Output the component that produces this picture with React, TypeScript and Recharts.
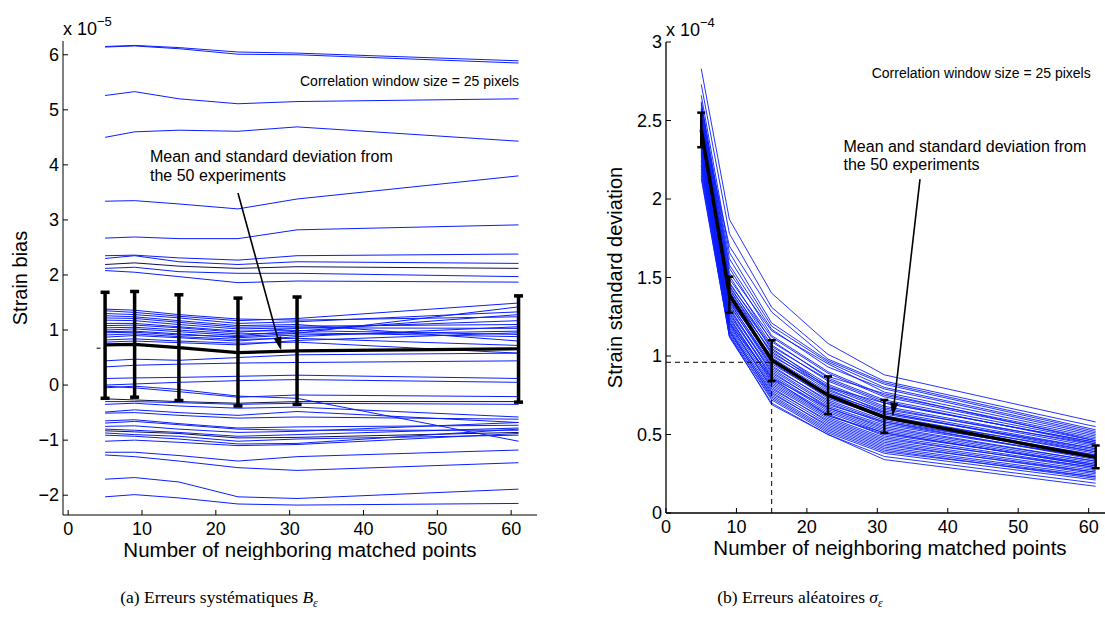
import React from 'react';
import { LineChart, Line, XAxis, YAxis, ErrorBar, ReferenceLine, ReferenceDot, Label } from 'recharts';

// ---------- data ----------
const xPoints = [5, 9, 15, 23, 31, 61];

const biasSeries: number[][] = [
  [6.15, 6.17, 6.13, 6.05, 6.03, 5.89],
  [6.14, 6.16, 6.11, 6.01, 6.0, 5.85],
  [5.26, 5.33, 5.2, 5.11, 5.15, 5.2],
  [4.5, 4.6, 4.63, 4.61, 4.69, 4.43],
  [3.34, 3.35, 3.29, 3.2, 3.38, 3.8],
  [2.67, 2.69, 2.66, 2.66, 2.82, 2.91],
  [2.35, 2.36, 2.31, 2.27, 2.35, 2.38],
  [2.3, 2.35, 2.24, 2.19, 2.24, 2.21],
  [2.19, 2.22, 2.16, 2.12, 2.15, 2.12],
  [2.12, 2.14, 2.06, 2.03, 2.03, 1.97],
  [2.08, 2.05, 1.97, 1.86, 1.89, 1.87],
  [1.38, 1.36, 1.28, 1.2, 1.18, 1.24],
  [1.35, 1.32, 1.25, 1.17, 1.21, 1.49],
  [1.3, 1.28, 1.22, 1.12, 1.15, 1.33],
  [1.26, 1.24, 1.17, 1.08, 1.1, 0.8],
  [1.22, 1.21, 1.14, 1.05, 1.07, 1.1],
  [1.18, 1.17, 1.1, 1.02, 1.04, 1.03],
  [1.12, 1.12, 1.06, 0.98, 0.99, 0.92],
  [1.08, 1.09, 1.04, 0.96, 1.03, 1.17],
  [1.04, 1.05, 1.0, 0.93, 0.95, 0.88],
  [1.0, 1.02, 0.97, 0.9, 0.98, 1.28],
  [0.97, 0.98, 0.93, 0.86, 0.91, 0.98],
  [0.91, 0.93, 0.88, 0.83, 0.85, 0.72],
  [0.87, 0.9, 0.86, 0.8, 0.88, 1.06],
  [0.82, 0.84, 0.8, 0.76, 0.78, 0.58],
  [0.78, 0.8, 0.77, 0.73, 0.81, 0.95],
  [0.44, 0.47, 0.45, 0.5, 0.55, 0.58],
  [0.33, 0.36, 0.38, 0.4, 0.41, 0.44],
  [0.12, 0.13, 0.14, 0.16, 0.18, 0.12],
  [0.0, 0.02, 0.05, 0.08, 0.1, 0.05],
  [-0.05, -0.02, -0.08, -0.2, -0.24, -1.02],
  [-0.02, -0.05, -0.12, -0.22, -0.18, -0.21],
  [-0.25, -0.27, -0.3, -0.33, -0.3, -0.3],
  [-0.3, -0.3, -0.32, -0.35, -0.33, -0.35],
  [-0.35, -0.33, -0.38, -0.42, -0.4, -0.58],
  [-0.49, -0.45, -0.5, -0.55, -0.48, -0.68],
  [-0.51, -0.5, -0.55, -0.6, -0.58, -0.62],
  [-0.65, -0.63, -0.7, -0.78, -0.76, -0.73],
  [-0.69, -0.66, -0.72, -0.8, -0.82, -0.82],
  [-0.75, -0.74, -0.8, -0.86, -0.84, -0.68],
  [-0.8, -0.82, -0.86, -0.93, -0.9, -0.78],
  [-0.83, -0.85, -0.88, -0.96, -0.95, -0.86],
  [-0.87, -0.9, -0.93, -1.02, -0.98, -0.91],
  [-0.91, -0.93, -0.98, -1.07, -1.06, -0.8],
  [-1.02, -1.0, -1.04, -1.1, -1.08, -0.88],
  [-1.22, -1.22, -1.28, -1.38, -1.3, -1.18],
  [-1.27, -1.3, -1.38, -1.5, -1.55, -1.41],
  [-1.71, -1.68, -1.76, -2.03, -2.06, -1.89],
  [-2.03, -1.99, -2.05, -2.16, -2.18, -2.15],
  [0.95, 0.96, 0.91, 0.88, 0.94, 1.42],
];
const biasDarkLines = [8, 32, 41];
const biasMean = [0.73, 0.74, 0.68, 0.59, 0.62, 0.66];
const biasLow = [-0.24, -0.22, -0.28, -0.38, -0.35, -0.31];
const biasHigh = [1.685, 1.7, 1.64, 1.58, 1.6, 1.62];
const biasRefLevel = 0.67;

const stdSeries: number[][] = [
  [2.83, 1.87, 1.4, 1.08, 0.88, 0.58],
  [2.73, 1.78, 1.31, 1.01, 0.84, 0.55],
  [2.66, 1.66, 1.21, 0.97, 0.82, 0.52],
  [2.62, 1.58, 1.17, 0.93, 0.79, 0.5],
  [2.6, 1.53, 1.16, 0.95, 0.77, 0.49],
  [2.58, 1.56, 1.13, 0.9, 0.75, 0.48],
  [2.57, 1.49, 1.12, 0.89, 0.74, 0.47],
  [2.55, 1.51, 1.09, 0.87, 0.76, 0.46],
  [2.54, 1.46, 1.1, 0.86, 0.72, 0.46],
  [2.53, 1.47, 1.07, 0.84, 0.7, 0.45],
  [2.52, 1.44, 1.06, 0.85, 0.71, 0.44],
  [2.51, 1.45, 1.04, 0.82, 0.68, 0.43],
  [2.5, 1.42, 1.05, 0.8, 0.66, 0.44],
  [2.49, 1.41, 1.02, 0.81, 0.67, 0.42],
  [2.48, 1.43, 1.01, 0.78, 0.65, 0.41],
  [2.47, 1.39, 1.03, 0.79, 0.64, 0.4],
  [2.46, 1.38, 0.99, 0.77, 0.63, 0.41],
  [2.45, 1.4, 0.98, 0.76, 0.64, 0.39],
  [2.45, 1.36, 0.97, 0.75, 0.62, 0.38],
  [2.44, 1.37, 0.96, 0.73, 0.61, 0.39],
  [2.43, 1.34, 0.95, 0.74, 0.6, 0.37],
  [2.42, 1.35, 0.93, 0.72, 0.59, 0.36],
  [2.41, 1.32, 0.94, 0.71, 0.58, 0.37],
  [2.4, 1.33, 0.92, 0.7, 0.57, 0.35],
  [2.4, 1.3, 0.91, 0.69, 0.58, 0.34],
  [2.39, 1.31, 0.89, 0.68, 0.56, 0.35],
  [2.38, 1.29, 0.9, 0.67, 0.55, 0.33],
  [2.37, 1.27, 0.88, 0.66, 0.53, 0.32],
  [2.36, 1.28, 0.86, 0.67, 0.54, 0.33],
  [2.35, 1.26, 0.87, 0.65, 0.52, 0.31],
  [2.34, 1.24, 0.85, 0.64, 0.51, 0.3],
  [2.33, 1.25, 0.83, 0.62, 0.5, 0.31],
  [2.32, 1.23, 0.84, 0.63, 0.49, 0.29],
  [2.31, 1.22, 0.82, 0.61, 0.48, 0.28],
  [2.3, 1.2, 0.81, 0.6, 0.47, 0.29],
  [2.29, 1.21, 0.79, 0.59, 0.46, 0.27],
  [2.28, 1.19, 0.8, 0.58, 0.45, 0.26],
  [2.27, 1.18, 0.78, 0.57, 0.44, 0.25],
  [2.25, 1.17, 0.76, 0.56, 0.43, 0.26],
  [2.24, 1.16, 0.77, 0.55, 0.42, 0.24],
  [2.22, 1.15, 0.75, 0.54, 0.41, 0.23],
  [2.21, 1.16, 0.74, 0.53, 0.4, 0.22],
  [2.19, 1.14, 0.73, 0.52, 0.39, 0.23],
  [2.17, 1.13, 0.72, 0.51, 0.38, 0.21],
  [2.15, 1.12, 0.7, 0.5, 0.36, 0.19],
  [2.13, 1.13, 0.69, 0.5, 0.34, 0.17],
  [2.61, 1.62, 1.19, 0.96, 0.8, 0.51],
  [2.5, 1.7, 1.28, 0.98, 0.83, 0.53],
  [2.4, 1.35, 1.0, 0.8, 0.7, 0.45],
  [2.44, 1.21, 0.86, 0.62, 0.51, 0.3],
];
const stdMean = [2.44, 1.39, 0.975, 0.75, 0.61, 0.355];
const stdLow = [2.33, 1.275, 0.84, 0.63, 0.51, 0.285];
const stdHigh = [2.55, 1.505, 1.1, 0.87, 0.72, 0.43];
const stdRefX = 15;
const stdRefLevel = 0.96;

const leftXTicks = [0, 10, 20, 30, 40, 50, 60];
const leftYTicks = [-2, -1, 0, 1, 2, 3, 4, 5, 6];
const rightXTicks = [0, 10, 20, 30, 40, 50, 60];
const rightYTicks = [0, 0.5, 1, 1.5, 2, 2.5, 3];

const xLabelText = 'Number of neighboring matched points';
const noteText = 'Correlation window size = 25 pixels';
const meanNote1 = 'Mean and standard deviation from';
const meanNote2 = 'the 50 experiments';

// ---------- helpers ----------
const buildRows = (series: number[][], mean: number[], low: number[], high: number[]) =>
  xPoints.map((x, i) => {
    const row: Record<string, any> = { x, mean: mean[i], err: [mean[i] - low[i], high[i] - mean[i]] };
    series.forEach((s, k) => {
      row['s' + k] = s[i];
    });
    return row;
  });

const biasRows = buildRows(biasSeries, biasMean, biasLow, biasHigh);
const stdRows = buildRows(stdSeries, stdMean, stdLow, stdHigh);

const FONT = '"Liberation Sans", Arial, Helvetica, sans-serif';
const TL = 5;
const fmtNum = (v: number) => (v < 0 ? '\u2212' + Math.abs(v) : String(v));

const makeTick = (side: 'bottom' | 'top' | 'left' | 'right', showLabel: boolean) => (props: any) => {
  const { x, y, payload } = props;
  const v = payload.value;
  let line: any = null;
  let label: any = null;
  if (side === 'bottom') {
    line = <line x1={x} y1={y} x2={x} y2={y - TL} stroke="#000" strokeWidth={1} />;
    if (showLabel)
      label = (
        <text x={x} y={y + 20} textAnchor="middle" fontFamily={FONT} fontSize={18} fill="#000">
          {fmtNum(v)}
        </text>
      );
  } else if (side === 'top') {
    line = <line x1={x} y1={y} x2={x} y2={y + TL} stroke="#000" strokeWidth={1} />;
  } else if (side === 'left') {
    line = <line x1={x} y1={y} x2={x + TL} y2={y} stroke="#000" strokeWidth={1} />;
    if (showLabel)
      label = (
        <text x={x - 4} y={y + 6} textAnchor="end" fontFamily={FONT} fontSize={18} fill="#000">
          {fmtNum(v)}
        </text>
      );
  } else {
    line = <line x1={x} y1={y} x2={x - TL} y2={y} stroke="#000" strokeWidth={1} />;
  }
  return (
    <g>
      {line}
      {label}
    </g>
  );
};

const yTitle = (title: string, exp: string, titleX: number, expDy: number) => (props: any) => {
  const vb = props.viewBox || {};
  const { x = 0, y = 0, width = 0, height = 0 } = vb;
  return (
    <g>
      <text
        transform={`translate(${x + titleX}, ${y + height / 2}) rotate(-90)`}
        textAnchor="middle"
        fontFamily={FONT}
        fontSize={20}
        fill="#000"
      >
        {title}
      </text>
      <text x={x + width} y={y + expDy} fontFamily={FONT} fontSize={18} fill="#000">
        x 10
        <tspan dy={-9} fontSize={13}>
          {exp}
        </tspan>
      </text>
    </g>
  );
};

const xTitle = (props: any) => {
  const vb = props.viewBox || {};
  const { x = 0, y = 0, width = 0 } = vb;
  return (
    <text x={x + width / 2} y={y + 42} textAnchor="middle" fontFamily={FONT} fontSize={20.5} fill="#000">
      {xLabelText}
    </text>
  );
};

const noteLabel = (size: number) => (props: any) => {
  const vb = props.viewBox || {};
  return (
    <text x={vb.x} y={vb.y} fontFamily={FONT} fontSize={size} fill="#000">
      {noteText}
    </text>
  );
};

const meanLabel = (props: any) => {
  const vb = props.viewBox || {};
  return (
    <text x={vb.x} y={vb.y} fontFamily={FONT} fontSize={16} fill="#000">
      <tspan x={vb.x}>{meanNote1}</tspan>
      <tspan x={vb.x} dy={18.5}>
        {meanNote2}
      </tspan>
    </text>
  );
};

const arrowShape = (props: any) => {
  const { x1, y1, x2, y2 } = props;
  if ([x1, y1, x2, y2].some((v) => typeof v !== 'number' || isNaN(v))) return <g />;
  const dx = x2 - x1;
  const dy = y2 - y1;
  const len = Math.sqrt(dx * dx + dy * dy) || 1;
  const ux = dx / len;
  const uy = dy / len;
  const hl = 12;
  const hw = 3.5;
  const bx = x2 - ux * hl;
  const by = y2 - uy * hl;
  const pts = `${x2},${y2} ${bx - uy * hw},${by + ux * hw} ${bx + uy * hw},${by - ux * hw}`;
  return (
    <g>
      <line x1={x1} y1={y1} x2={bx} y2={by} stroke="#000" strokeWidth={1.6} />
      <polygon points={pts} fill="#000" stroke="#000" strokeWidth={0.8} />
    </g>
  );
};

const BLUE = '#0a1eff';

// ---------- charts ----------
function BiasChart() {
  return (
    <LineChart width={560} height={560} data={biasRows} margin={{ top: 41, right: 23, bottom: 0, left: 0 }}>
      <XAxis
        dataKey="x"
        type="number"
        domain={[-0.7, 63.5]}
        ticks={leftXTicks}
        interval={0}
        allowDataOverflow
        height={45}
        tickSize={0}
        tickMargin={0}
        tickLine={false}
        axisLine={{ stroke: '#000', strokeWidth: 1 }}
        tick={makeTick('bottom', true)}
      >
        <Label content={xTitle} />
      </XAxis>
      <XAxis
        xAxisId="top"
        orientation="top"
        dataKey="x"
        type="number"
        domain={[-0.7, 63.5]}
        ticks={leftXTicks}
        interval={0}
        allowDataOverflow
        height={0}
        tickSize={0}
        tickMargin={0}
        tickLine={false}
        axisLine={{ stroke: '#000', strokeWidth: 1 }}
        tick={makeTick('top', false)}
      />
      <YAxis
        type="number"
        domain={[-2.36, 6.25]}
        ticks={leftYTicks}
        interval={0}
        allowDataOverflow
        width={63}
        tickSize={0}
        tickMargin={0}
        tickLine={false}
        axisLine={{ stroke: '#000', strokeWidth: 1 }}
        tick={makeTick('left', true)}
      >
        <Label content={yTitle('Strain bias', '\u22125', 27, -6)} />
      </YAxis>
      <YAxis
        yAxisId="right"
        orientation="right"
        type="number"
        domain={[-2.36, 6.25]}
        ticks={leftYTicks}
        interval={0}
        allowDataOverflow
        width={0}
        tickSize={0}
        tickMargin={0}
        tickLine={false}
        axisLine={{ stroke: '#000', strokeWidth: 1 }}
        tick={makeTick('right', false)}
      />
      {biasSeries.map((_, k) => (
        <Line
          key={'b' + k}
          dataKey={'s' + k}
          stroke={biasDarkLines.includes(k) ? '#10104a' : BLUE}
          strokeWidth={1}
          dot={false}
          activeDot={false}
          isAnimationActive={false}
        />
      ))}
      <ReferenceLine
        segment={[
          { x: 3.85, y: biasRefLevel },
          { x: 5, y: biasRefLevel },
        ]}
        stroke="#000"
        strokeDasharray="4 3"
        strokeWidth={1}
      />
      <Line dataKey="mean" stroke="#000" strokeWidth={3.2} dot={false} activeDot={false} isAnimationActive={false}>
        <ErrorBar dataKey="err" direction="y" width={4.5} strokeWidth={3.5} stroke="#000" />
      </Line>
      <ReferenceDot x={31.4} y={5.43} r={0} fill="none" stroke="none" label={noteLabel(14)} />
      <ReferenceDot x={11.08} y={4.05} r={0} fill="none" stroke="none" label={meanLabel} />
      <ReferenceLine
        segment={[
          { x: 23.0, y: 3.49 },
          { x: 28.8, y: 0.65 },
        ]}
        shape={arrowShape}
      />
    </LineChart>
  );
}

function StdChart() {
  return (
    <LineChart width={574} height={560} data={stdRows} margin={{ top: 42, right: 20, bottom: 0, left: 0 }}>
      <XAxis
        dataKey="x"
        type="number"
        domain={[0, 63.6]}
        ticks={rightXTicks}
        interval={0}
        allowDataOverflow
        height={47}
        tickSize={0}
        tickMargin={0}
        tickLine={false}
        axisLine={{ stroke: '#000', strokeWidth: 1.3 }}
        tick={makeTick('bottom', true)}
      >
        <Label content={xTitle} />
      </XAxis>
      <XAxis
        xAxisId="top"
        orientation="top"
        dataKey="x"
        type="number"
        domain={[0, 63.6]}
        ticks={rightXTicks}
        interval={0}
        allowDataOverflow
        height={0}
        tickSize={0}
        tickMargin={0}
        tickLine={false}
        axisLine={{ stroke: '#000', strokeWidth: 1 }}
        tick={makeTick('top', false)}
      />
      <YAxis
        type="number"
        domain={[0, 3]}
        ticks={rightYTicks}
        interval={0}
        allowDataOverflow
        width={106}
        tickSize={0}
        tickMargin={0}
        tickLine={false}
        axisLine={{ stroke: '#000', strokeWidth: 1.3 }}
        tick={makeTick('left', true)}
      >
        <Label content={yTitle('Strain standard deviation', '\u22124', 62, -6)} />
      </YAxis>
      {stdSeries.map((_, k) => (
        <Line
          key={'r' + k}
          dataKey={'s' + k}
          stroke={BLUE}
          strokeWidth={0.9}
          dot={false}
          activeDot={false}
          isAnimationActive={false}
        />
      ))}
      <ReferenceLine
        segment={[
          { x: 0, y: stdRefLevel },
          { x: stdRefX, y: stdRefLevel },
        ]}
        stroke="#000"
        strokeDasharray="5 4"
        strokeWidth={1}
      />
      <ReferenceLine
        segment={[
          { x: stdRefX, y: 0 },
          { x: stdRefX, y: stdRefLevel },
        ]}
        stroke="#000"
        strokeDasharray="5 4"
        strokeWidth={1}
      />
      <Line dataKey="mean" stroke="#000" strokeWidth={3.5} dot={false} activeDot={false} isAnimationActive={false}>
        <ErrorBar dataKey="err" direction="y" width={4} strokeWidth={2.5} stroke="#000" />
      </Line>
      <ReferenceDot x={29.2} y={2.77} r={0} fill="none" stroke="none" label={noteLabel(14)} />
      <ReferenceDot x={25.2} y={2.3} r={0} fill="none" stroke="none" label={meanLabel} />
      <ReferenceLine
        segment={[
          { x: 36.06, y: 2.127 },
          { x: 32.2, y: 0.624 },
        ]}
        shape={arrowShape}
      />
    </LineChart>
  );
}

const SERIF = '"Liberation Serif", "Times New Roman", serif';

export default function App() {
  return (
    <div
      style={{
        position: 'absolute',
        left: 0,
        top: 0,
        width: 1105,
        height: 619,
        overflow: 'hidden',
        background: '#fff',
      }}
    >
      <div style={{ position: 'absolute', left: 0, top: 0 }}>
        <BiasChart />
      </div>
      <div style={{ position: 'absolute', left: 560, top: 0 }}>
        <StdChart />
      </div>
      <svg width={1105} height={619} style={{ position: 'absolute', left: 0, top: 0, pointerEvents: 'none' }}>
        <text x={219} y={603} textAnchor="middle" fontFamily={SERIF} fontSize={17.5} fill="#000">
          (a) Erreurs systématiques <tspan fontStyle="italic">B</tspan>
          <tspan fontStyle="italic" fontSize={12} dy={4}>
            ε
          </tspan>
        </text>
        <text x={800} y={603} textAnchor="middle" fontFamily={SERIF} fontSize={17.5} fill="#000">
          (b) Erreurs aléatoires <tspan fontStyle="italic">σ</tspan>
          <tspan fontStyle="italic" fontSize={12} dy={4}>
            ε
          </tspan>
        </text>
      </svg>
    </div>
  );
}
